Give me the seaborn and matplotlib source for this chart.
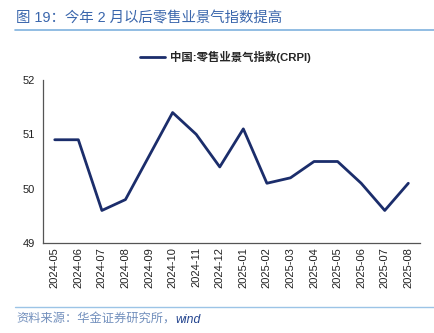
import matplotlib
matplotlib.use("Agg")
import matplotlib.pyplot as plt
import seaborn as sns
import pandas as pd
from matplotlib.lines import Line2D

months = ["2024-05", "2024-06", "2024-07", "2024-08", "2024-09", "2024-10",
          "2024-11", "2024-12", "2025-01", "2025-02", "2025-03", "2025-04",
          "2025-05", "2025-06", "2025-07", "2025-08"]
crpi = [50.9, 50.9, 49.6, 49.8, 50.6, 51.4, 51.0, 50.4, 51.1, 50.1, 50.2,
        50.5, 50.5, 50.1, 49.6, 50.1]
y_ticks = [49, 50, 51, 52]
series_name = "中国:零售业景气指数(CRPI)"
title_text = "图 19：今年 2 月以后零售业景气指数提高"
source_text = "资料来源：华金证券研究所，"
source_tail = "wind"

sns.set_style("white")
plt.rcParams['font.family'] = ['Liberation Sans', 'Noto Sans CJK SC', 'DejaVu Sans']

df = pd.DataFrame({"month": months, "value": crpi, "idx": range(len(months))})

fig = plt.figure(figsize=(4.34, 3.33), dpi=100)
ax = fig.add_axes([0.099, 0.270, 0.869, 0.490])

line_color = "#1b2d6b"
sns.lineplot(data=df, x="idx", y="value", ax=ax, color=line_color, linewidth=2.0,
             legend=False)

ax.set_xlim(-0.5, len(months) - 0.5)
ax.set_ylim(49, 52)
ax.set_yticks(y_ticks)
ax.set_xticks(range(len(months)))
ax.set_xticklabels(months, rotation=90, fontsize=8, color="#222222")
ax.set_xticks([i - 0.5 for i in range(len(months) + 1)], minor=True)
ax.tick_params(axis="x", which="major", length=0, pad=3)
ax.tick_params(axis="x", which="minor", length=3.5, width=0.8, color="#555555", direction="out")
ax.tick_params(axis="y", length=3.5, width=0.8, color="#555555", direction="out",
               labelsize=8, labelcolor="#222222", pad=2)
ax.set_xlabel("")
ax.set_ylabel("")
for s in ["top", "right"]:
    ax.spines[s].set_visible(False)
for s in ["left", "bottom"]:
    ax.spines[s].set_color("#555555")
    ax.spines[s].set_linewidth(0.9)

# legend
handle = Line2D([0], [0], color=line_color, linewidth=2.0)
fig.legend([handle], [series_name], loc="center", bbox_to_anchor=(0.52, 0.829),
           frameon=False, handlelength=2.2, handletextpad=0.4,
           prop={"family": ['Liberation Sans', 'Noto Sans CJK SC'], "weight": "bold", "size": 8.2})

# title
fig.text(16 / 434, 1 - 18 / 333, title_text, fontsize=10.4, color="#3a66ac",
         ha="left", va="center")
fig.add_artist(Line2D([15 / 434, 1.0], [1 - 30 / 333, 1 - 30 / 333],
                      color="#7fb2de", linewidth=1.2, transform=fig.transFigure))

# footer
fig.add_artist(Line2D([15 / 434, 1.0], [1 - 307 / 333, 1 - 307 / 333],
                      color="#9cc4e6", linewidth=1.0, transform=fig.transFigure))
t = fig.text(16 / 434, 1 - 320 / 333, source_text, fontsize=8.8, color="#7390bd",
             ha="left", va="center", style="italic")
fig.canvas.draw()
bb = t.get_window_extent()
fig.text(bb.x1 / fig.bbox.width, 1 - 320 / 333, source_tail, fontsize=8.8,
         color="#24458f", ha="left", va="center", style="italic")

fig.savefig("out.png", dpi=100)
